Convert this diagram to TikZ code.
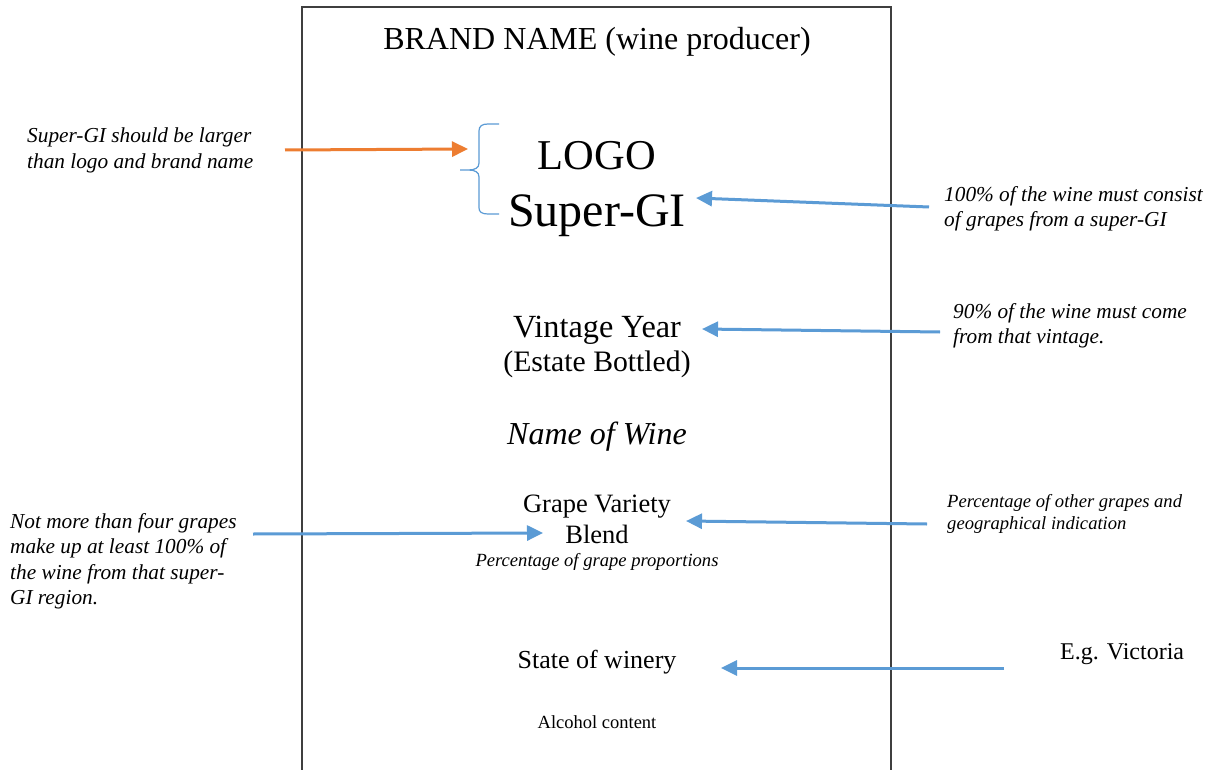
\documentclass[tikz,border=0pt]{standalone}
\usepackage{fontspec}
\setmainfont{Liberation Serif}
\usetikzlibrary{arrows.meta}
\definecolor{callblue}{HTML}{5B9BD5}
\definecolor{callorange}{HTML}{ED7D31}
\definecolor{framegray}{HTML}{3F3F3F}
\tikzset{
  lbl/.style={inner sep=0pt, anchor=base},
  note/.style={inner sep=0pt, anchor=north west, align=left,
    font=\fontsize{21.3}{25.5}\selectfont\itshape},
  callout/.style={draw=callblue, line width=3pt,
    -{Triangle[length=16pt,width=15pt]}},
}
\begin{document}
\begin{tikzpicture}[x=1pt, y=-1pt]
\useasboundingbox (0,0) rectangle (1215,770);
\fill[white] (0,0) rectangle (1215,770);

% label outline (open at the bottom)
\draw[framegray, line width=1.5pt] (302,775) -- (302,7) -- (891,7) -- (891,775);

% label contents
\node[lbl, font=\fontsize{32}{38}\selectfont] (brand) at (597,50) {BRAND NAME (wine producer)};
\node[lbl, font=\fontsize{42.5}{50}\selectfont] (logo) at (597,170) {LOGO};
\node[lbl, font=\fontsize{48}{56}\selectfont] (supergi) at (597,226) {Super-GI};
\node[lbl, font=\fontsize{32.3}{38}\selectfont] (vintage) at (597,337) {Vintage Year};
\node[lbl, font=\fontsize{29.7}{36}\selectfont] (estate) at (597,371) {(Estate Bottled)};
\node[lbl, font=\fontsize{32}{38}\selectfont\itshape] (wine) at (597,444) {Name of Wine};
\node[lbl, font=\fontsize{26.5}{32}\selectfont] (grape) at (597,512) {Grape Variety};
\node[lbl, font=\fontsize{26.5}{32}\selectfont] (blend) at (597,543) {Blend};
\node[lbl, font=\fontsize{18.6}{22}\selectfont\itshape] (proportions) at (597,566) {Percentage of grape proportions};
\node[lbl, font=\fontsize{26}{32}\selectfont] (state) at (597,668) {State of winery};
\node[lbl, font=\fontsize{18.5}{22}\selectfont] (alcohol) at (597,728) {Alcohol content};

% brace grouping logo and super-GI
\draw[callblue, line width=1.2pt]
  (499,124) -- (488,124) .. controls (482,124) and (479,126) .. (479,131)
  -- (479,163) .. controls (479,168) and (475,170) .. (468,170) -- (460,170)
  -- (468,170) .. controls (475,170) and (479,172) .. (479,177)
  -- (479,208) .. controls (479,212) and (482,214) .. (488,214) -- (499,214);
\coordinate (bracetip) at (468,149);

% side notes
\node[note] (noteSize) at (27,128) {Super-GI should be larger\\than logo and brand name};
\node[note] (noteGI) at (944,186) {100\% of the wine must consist\\of grapes from a super-GI};
\node[note] (noteVintage) at (953,303) {90\% of the wine must come\\from that vintage.};
\node[note] (noteGrapes) at (10,513) {Not more than four grapes\\make up at least 100\% of\\the wine from that super-\\GI region.};
\node[note, font=\fontsize{18.6}{22}\selectfont\itshape] (noteOther) at (947,494) {Percentage of other grapes and\\geographical indication};
\node[lbl, anchor=base west, font=\fontsize{24}{29}\selectfont] (victoria) at (1060,659) {E.g. Victoria};

% arrow ends
\coordinate (tSize) at (285,150);
\coordinate (tGI) at (929,207);
\coordinate (hGI) at (696,198);
\coordinate (tVintage) at (940,332);
\coordinate (hVintage) at (702,329);
\coordinate (tGrapes) at (253,534);
\coordinate (hGrapes) at (543,533);
\coordinate (tOther) at (927,524);
\coordinate (hOther) at (686,521);
\coordinate (tState) at (1004,668);
\coordinate (hState) at (721,668);

% connectors
\draw[callout, draw=callorange, callorange] (tSize) -- (bracetip);
\draw[callout, callblue] (tGI) -- (hGI);
\draw[callout, callblue] (tVintage) -- (hVintage);
\draw[callout, callblue] (tGrapes) -- (hGrapes);
\draw[callout, callblue] (tOther) -- (hOther);
\draw[callout, callblue] (tState) -- (hState);
\end{tikzpicture}
\end{document}
